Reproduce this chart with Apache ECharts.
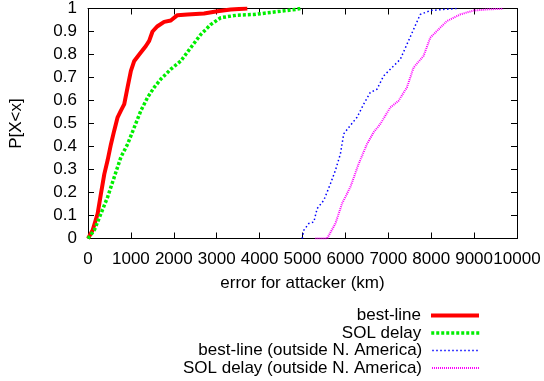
<!DOCTYPE html>
<html><head><meta charset="utf-8">
<script src="https://cdn.jsdelivr.net/npm/echarts@6/dist/echarts.min.js"></script>
<style>html,body{margin:0;padding:0;background:#fff}#c{width:544px;height:381px}</style>
</head><body><div id="c"></div>
<script>
const seriesNames = ["best-line", "SOL delay", "best-line (outside N. America)", "SOL delay (outside N. America)"];
const xTicks = [0,1000,2000,3000,4000,5000,6000,7000,8000,9000,10000];
const yTicks = [0,0.1,0.2,0.3,0.4,0.5,0.6,0.7,0.8,0.9,1];
const bestLine = [[0,0],[108,0.036],[225,0.108],[302,0.195],[380,0.28],[457,0.34],[535,0.41],[612,0.47],[690,0.527],[767,0.556],[845,0.584],[922,0.657],[1000,0.729],[1078,0.772],[1194,0.80],[1349,0.837],[1426,0.859],[1504,0.90],[1620,0.923],[1775,0.942],[1930,0.948],[2085,0.971],[2318,0.974],[2705,0.978],[3016,0.988],[3326,0.996],[3713,1.0]];
const solDelay = [[0,0],[147,0.036],[302,0.108],[457,0.18],[612,0.267],[767,0.354],[922,0.41],[1078,0.483],[1233,0.556],[1388,0.613],[1543,0.657],[1698,0.693],[1930,0.736],[2163,0.772],[2395,0.83],[2628,0.887],[2860,0.93],[3093,0.96],[3481,0.971],[3868,0.974],[4178,0.981],[4488,0.988],[4837,0.996],[4950,1.0]];
const bestLineOut = [[4993,0],[5031,0.036],[5147,0.065],[5264,0.072],[5341,0.13],[5496,0.166],[5651,0.238],[5767,0.296],[5884,0.368],[5961,0.455],[6078,0.483],[6271,0.527],[6426,0.584],[6581,0.635],[6736,0.649],[6891,0.707],[7047,0.736],[7279,0.779],[7434,0.844],[7589,0.909],[7744,0.974],[7977,0.991],[8287,0.996],[8597,1.0]];
const solDelayOut = [[5302,0],[5574,0],[5767,0.065],[5922,0.152],[6116,0.224],[6310,0.325],[6504,0.411],[6659,0.462],[6814,0.498],[7047,0.57],[7240,0.599],[7434,0.657],[7589,0.743],[7822,0.794],[7977,0.873],[8132,0.902],[8364,0.945],[8674,0.974],[8984,0.991],[9295,0.996],[9682,0.999]];
const seriesData = [bestLine, solDelay, bestLineOut, solDelayOut];
const colors = ["#ff0000", "#00ee00", "#0000ff", "#ff00ff"];
const widths = [4, 3.5, 1.5, 2];
const dashes = ["solid", [3,2], [1.5,2.5], [1,1]];
const FONT = "Liberation Sans";
const FS = 17;
const chart = echarts.init(document.getElementById('c'), null, {renderer:'canvas'});
const axisCommon = {
  axisLine:{show:true, onZero:false, lineStyle:{color:'#000', width:1}},
  axisTick:{show:true, inside:true, length:6, lineStyle:{color:'#000'}},
  splitLine:{show:false}
};
const legends = seriesNames.map((n,i)=>({
  orient:'vertical', right:63, top:307 + i*17.5, align:'right',
  padding:0, itemWidth:48, itemHeight:14, itemGap:0,
  data:[n],
  selectedMode:false,
  itemStyle:{opacity:0},
  textStyle:{fontFamily:FONT, fontSize:FS, color:'#000', padding:[0,5,0,0]},
  lineStyle:{width:widths[i], type:dashes[i], color:colors[i]}
}));
chart.setOption({
  animation:false,
  textStyle:{fontFamily:FONT},
  grid:{left:87, right:27, top:7.5, bottom:142.5, containLabel:false},
  legend: legends,
  xAxis:[
    Object.assign({type:'value', min:xTicks[0], max:xTicks[xTicks.length-1], interval:1000, position:'bottom',
      name:'error for attacker (km)', nameLocation:'middle', nameGap:36,
      nameTextStyle:{fontFamily:FONT, fontSize:FS, color:'#000'},
      axisLabel:{fontFamily:FONT, fontSize:FS, color:'#000', margin:12, showMinLabel:true, showMaxLabel:true, hideOverlap:false,
        formatter:v=>String(v)}}, axisCommon),
    Object.assign({type:'value', min:0, max:10000, interval:1000, position:'top', axisLabel:{show:false}}, axisCommon)
  ],
  yAxis:[
    Object.assign({type:'value', min:yTicks[0], max:yTicks[yTicks.length-1], interval:0.1, position:'left',
      name:'P[X<x]', nameLocation:'middle', nameGap:63, nameRotate:90,
      nameTextStyle:{fontFamily:FONT, fontSize:FS, color:'#000'},
      axisLabel:{fontFamily:FONT, fontSize:FS, color:'#000', margin:11,
        formatter:v=>String(Math.round(v*10)/10)}}, axisCommon),
    Object.assign({type:'value', min:0, max:1, interval:0.1, position:'right', axisLabel:{show:false}}, axisCommon)
  ],
  series: seriesNames.map((n,i)=>({
    name:n, type:'line', data:seriesData[i], xAxisIndex:0, yAxisIndex:0,
    showSymbol:false, symbol:'none', smooth:false,
    lineStyle:{color:colors[i], width:widths[i], type:dashes[i]},
    itemStyle:{color:colors[i]}
  }))
});
</script></body></html>
